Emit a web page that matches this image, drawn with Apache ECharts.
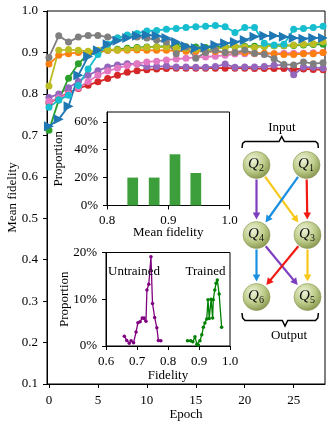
<!DOCTYPE html>
<html>
<head>
<meta charset="utf-8">
<script src="https://cdn.jsdelivr.net/npm/echarts@6/dist/echarts.min.js"></script>
<style>
  html, body { margin: 0; padding: 0; background: #fff; }
  #chart { width: 327px; height: 425px; }
</style>
</head>
<body>
<div id="chart"></div>
<script>
  // main plot: mean fidelity per epoch, one array per run
  var epochs = [0, 1, 2, 3, 4, 5, 6, 7, 8, 9, 10, 11, 12, 13, 14, 15, 16, 17, 18, 19, 20, 21, 22, 23, 24, 25, 26, 27, 28]
  var runRed = [0.778, 0.79, 0.803, 0.813, 0.821, 0.829, 0.837, 0.845, 0.852, 0.856, 0.858, 0.86, 0.861, 0.862, 0.862, 0.862, 0.862, 0.862, 0.862, 0.862, 0.862, 0.861, 0.861, 0.861, 0.861, 0.86, 0.86, 0.859, 0.858]
  var runPurple = [0.791, 0.8, 0.815, 0.83, 0.845, 0.856, 0.865, 0.87, 0.873, 0.872, 0.866, 0.866, 0.867, 0.865, 0.865, 0.864, 0.864, 0.866, 0.872, 0.864, 0.865, 0.865, 0.866, 0.869, 0.87, 0.846, 0.865, 0.864, 0.862]
  var runPink = [0.782, 0.79, 0.8, 0.815, 0.83, 0.845, 0.855, 0.862, 0.868, 0.873, 0.877, 0.879, 0.882, 0.884, 0.886, 0.888, 0.889, 0.891, 0.893, 0.896, 0.897, 0.897, 0.897, 0.897, 0.898, 0.898, 0.898, 0.899, 0.9]
  var runGreen = [0.712, 0.785, 0.838, 0.873, 0.895, 0.9, 0.905, 0.908, 0.91, 0.912, 0.913, 0.914, 0.915, 0.915, 0.914, 0.913, 0.912, 0.913, 0.914, 0.914, 0.915, 0.915, 0.915, 0.916, 0.916, 0.917, 0.918, 0.919, 0.92]
  var runOrange = [0.872, 0.893, 0.897, 0.9, 0.9, 0.902, 0.905, 0.905, 0.905, 0.906, 0.905, 0.905, 0.905, 0.904, 0.903, 0.903, 0.902, 0.902, 0.9, 0.9, 0.9, 0.898, 0.898, 0.897, 0.895, 0.895, 0.897, 0.897, 0.9]
  var runOlive = [0.819, 0.905, 0.907, 0.905, 0.903, 0.905, 0.907, 0.906, 0.908, 0.91, 0.912, 0.913, 0.913, 0.911, 0.91, 0.908, 0.905, 0.908, 0.912, 0.915, 0.913, 0.912, 0.915, 0.916, 0.917, 0.918, 0.92, 0.921, 0.926]
  var runGray = [0.888, 0.94, 0.925, 0.937, 0.941, 0.941, 0.937, 0.935, 0.94, 0.937, 0.935, 0.93, 0.925, 0.897, 0.913, 0.886, 0.9, 0.905, 0.9, 0.9, 0.905, 0.898, 0.895, 0.885, 0.871, 0.87, 0.877, 0.873, 0.875]
  var runCyan = [0.768, 0.785, 0.797, 0.82, 0.86, 0.895, 0.92, 0.935, 0.942, 0.946, 0.952, 0.953, 0.956, 0.958, 0.96, 0.962, 0.963, 0.965, 0.962, 0.948, 0.96, 0.96, 0.922, 0.918, 0.92, 0.956, 0.958, 0.96, 0.963]
  var runBlue = [0.722, 0.739, 0.77, 0.845, 0.89, 0.905, 0.92, 0.928, 0.935, 0.94, 0.942, 0.94, 0.935, 0.925, 0.915, 0.91, 0.912, 0.918, 0.922, 0.925, 0.93, 0.938, 0.94, 0.94, 0.938, 0.935, 0.933, 0.935, 0.935]
  var epochTicks = [0, 5, 10, 15, 20, 25]

  // inset 1: histogram of mean fidelity
  var binCenters = [0.842, 0.877, 0.911, 0.945]
  var binProps = [0.2, 0.2, 0.367, 0.233]
  var propTicks = [0, 0.2, 0.4, 0.6]

  // inset 2: fidelity distributions
  var untrainedFid = [0.659, 0.667, 0.675, 0.681, 0.689, 0.697, 0.703, 0.71, 0.717, 0.723, 0.729, 0.732, 0.738, 0.745, 0.75, 0.757, 0.764, 0.769, 0.777]
  var untrainedProp = [0.021, 0.012, 0.006, 0.011, 0.007, 0.03, 0.05, 0.052, 0.06, 0.06, 0.053, 0.12, 0.132, 0.191, 0.091, 0.061, 0.039, 0.012, 0.011]
  var trainedFid = [0.863, 0.873, 0.88, 0.887, 0.893, 0.898, 0.903, 0.909, 0.914, 0.919, 0.925, 0.929, 0.933, 0.939, 0.944, 0.946, 0.951, 0.955, 0.959, 0.965, 0.973]
  var trainedProp = [0.011, 0.011, 0.009, 0.02, 0.004, 0.002, 0.011, 0.024, 0.04, 0.049, 0.058, 0.099, 0.059, 0.1, 0.06, 0.099, 0.12, 0.134, 0.141, 0.111, 0.04]

  var font = 'Liberation Serif'

  function pairs(xs, ys) {
    return xs.map(function (x, i) { return [x, ys[i]] })
  }

  function runSeries(data, color, symbol) {
    return {
      type: 'line',
      xAxisIndex: 0,
      yAxisIndex: 0,
      data: pairs(epochs, data),
      symbol: symbol || 'circle',
      symbolSize: symbol ? 10 : 7,
      symbolRotate: symbol ? -90 : 0,
      lineStyle: {width: 1.8, color: color},
      itemStyle: {color: color},
      emphasis: {disabled: true}
    }
  }

  function axisBase(extra) {
    var a = {
      type: 'value',
      axisLine: {show: true, onZero: false, lineStyle: {color: '#000', width: 1}},
      axisTick: {show: true, inside: false, length: 4, lineStyle: {color: '#000'}},
      axisLabel: {color: '#000', fontFamily: font, fontSize: 13, margin: 9},
      splitLine: {show: false},
      nameTextStyle: {color: '#000', fontFamily: font, fontSize: 13},
      nameLocation: 'middle',
      nameMoveOverlap: false
    }
    for (var k in extra) a[k] = extra[k]
    return a
  }

  // ---- qubit diagram ----
  var nodes = {
    Q1: [306.5, 165], Q2: [256.5, 165],
    Q4: [256.5, 235], Q3: [307.5, 235],
    Q6: [256.5, 297], Q5: [307.5, 297]
  }
  var R = 13.5
  var links = [
    ['Q2', 'Q4', '#7d3fbf'], ['Q2', 'Q3', '#f7c81a'], ['Q1', 'Q4', '#1b8fe0'], ['Q1', 'Q3', '#f01a12'],
    ['Q4', 'Q6', '#1b8fe0'], ['Q3', 'Q5', '#f7c81a'], ['Q4', 'Q5', '#7d3fbf'], ['Q3', 'Q6', '#f01a12']
  ]

  function arrow(a, b, color) {
    var dx = b[0] - a[0], dy = b[1] - a[1]
    var L = Math.sqrt(dx * dx + dy * dy)
    var ux = dx / L, uy = dy / L
    var sx = a[0] + ux * (R + 1), sy = a[1] + uy * (R + 1)
    var ex = b[0] - ux * (R + 2), ey = b[1] - uy * (R + 2)
    var bx = ex - ux * 7, by = ey - uy * 7
    return [
      {type: 'line', shape: {x1: sx, y1: sy, x2: bx + ux, y2: by + uy}, style: {stroke: color, lineWidth: 2.2}, z: 10},
      {type: 'polygon', shape: {points: [[ex, ey], [bx - uy * 3.8, by + ux * 3.8], [bx + uy * 3.8, by - ux * 3.8]]}, style: {fill: color}, z: 10}
    ]
  }

  var graphics = []
  links.forEach(function (l) {
    graphics = graphics.concat(arrow(nodes[l[0]], nodes[l[1]], l[2]))
  })
  Object.keys(nodes).forEach(function (k) {
    var c = nodes[k]
    graphics.push({
      type: 'circle', shape: {cx: c[0], cy: c[1], r: R}, z: 11,
      style: {
        fill: new echarts.graphic.RadialGradient(0.38, 0.32, 0.75, [
          {offset: 0, color: '#eef3d8'},
          {offset: 0.55, color: '#bccb88'},
          {offset: 1, color: '#7f8d46'}
        ]),
        stroke: '#8a9752', lineWidth: 0.6
      }
    })
    graphics.push({type: 'text', x: c[0] - 3, y: c[1] - 1, z: 12,
      style: {text: 'Q', font: 'italic 15px ' + font, fill: '#111', align: 'center', verticalAlign: 'middle'}})
    graphics.push({type: 'text', x: c[0] + 5, y: c[1] + 3, z: 12,
      style: {text: k.slice(1), font: '10px ' + font, fill: '#111', align: 'center', verticalAlign: 'middle'}})
  })
  // braces
  graphics.push({type: 'polyline', z: 10, shape: {points: [[242, 148], [242.6, 143.5], [245, 141.5], [279, 141.5], [281.7, 136.5], [284.4, 141.5], [315.5, 141.5], [317.8, 143.5], [318.4, 148]]},
    style: {stroke: '#000', lineWidth: 1.5, fill: null}})
  graphics.push({type: 'polyline', z: 10, shape: {points: [[242, 313], [242.6, 318], [245, 320.5], [282.3, 320.5], [285, 326], [287.7, 320.5], [315.5, 320.5], [317.8, 318], [318.4, 313]]},
    style: {stroke: '#000', lineWidth: 1.5, fill: null}})
  graphics.push({type: 'text', x: 282, y: 128, z: 12, style: {text: 'Input', font: '13px ' + font, fill: '#000', align: 'center', verticalAlign: 'middle'}})
  graphics.push({type: 'text', x: 289, y: 336, z: 12, style: {text: 'Output', font: '13px ' + font, fill: '#000', align: 'center', verticalAlign: 'middle'}})
  // inset annotations
  graphics.push({type: 'text', x: 134, y: 272, z: 12, style: {text: 'Untrained', font: '13px ' + font, fill: '#000', align: 'center', verticalAlign: 'middle'}})
  graphics.push({type: 'text', x: 205.5, y: 272, z: 12, style: {text: 'Trained', font: '13px ' + font, fill: '#000', align: 'center', verticalAlign: 'middle'}})

  var chart = echarts.init(document.getElementById('chart'))
  chart.setOption({
    animation: false,
    backgroundColor: '#fff',
    grid: [
      {left: 47, top: 11, right: 2, bottom: 41, show: true, borderColor: '#000', borderWidth: 1, backgroundColor: 'transparent', outerBoundsMode: 'none', containLabel: false},
      {left: 107, top: 112, width: 122.5, height: 93.5, show: true, borderColor: '#000', borderWidth: 1, backgroundColor: '#fff', outerBoundsMode: 'none', containLabel: false},
      {left: 106, top: 252.5, width: 124, height: 93.5, show: true, borderColor: '#000', borderWidth: 1, backgroundColor: '#fff', outerBoundsMode: 'none', containLabel: false}
    ],
    xAxis: [
      axisBase({gridIndex: 0, min: -0.2, max: 28.2, name: 'Epoch', nameGap: 24,
        axisTick: {show: true, length: 4, customValues: epochTicks, lineStyle: {color: '#000'}},
        axisLabel: {color: '#000', fontFamily: font, fontSize: 13, margin: 10, customValues: epochTicks}}),
      axisBase({gridIndex: 1, min: 0.8, max: 1.0, interval: 0.1, name: 'Mean fidelity', nameGap: 21,
        axisLabel: {color: '#000', fontFamily: font, fontSize: 13, margin: 9, formatter: function (v) { return v.toFixed(1) }}}),
      axisBase({gridIndex: 2, min: 0.6, max: 1.0, interval: 0.1, name: 'Fidelity', nameGap: 23,
        axisLabel: {color: '#000', fontFamily: font, fontSize: 13, margin: 9, formatter: function (v) { return v.toFixed(1) }}})
    ],
    yAxis: [
      axisBase({gridIndex: 0, min: 0.1, max: 1.0, interval: 0.1, name: 'Mean fidelity', nameGap: 28,
        axisLabel: {color: '#000', fontFamily: font, fontSize: 13, margin: 9, formatter: function (v) { return v.toFixed(1) }}}),
      axisBase({gridIndex: 1, min: 0, max: 0.67, name: 'Proportion', nameGap: 42,
        axisTick: {show: true, length: 4, customValues: propTicks, lineStyle: {color: '#000'}},
        axisLabel: {color: '#000', fontFamily: font, fontSize: 13, margin: 9, customValues: propTicks,
          formatter: function (v) { return Math.round(v * 100) + '%' }}}),
      axisBase({gridIndex: 2, min: 0, max: 0.2, interval: 0.1, name: 'Proportion', nameGap: 35,
        axisLabel: {color: '#000', fontFamily: font, fontSize: 13, margin: 9,
          formatter: function (v) { return Math.round(v * 100) + '%' }}})
    ],
    series: [
      runSeries(runRed, '#d62728'),
      runSeries(runPurple, '#9467bd'),
      runSeries(runPink, '#e377c2'),
      runSeries(runGreen, '#2ca02c'),
      runSeries(runOrange, '#ff7f0e'),
      runSeries(runOlive, '#bcbd22'),
      runSeries(runGray, '#7f7f7f'),
      runSeries(runCyan, '#17becf'),
      runSeries(runBlue, '#1f77b4', 'triangle'),
      {
        type: 'bar', xAxisIndex: 1, yAxisIndex: 1,
        data: pairs(binCenters, binProps),
        barWidth: 10.7,
        itemStyle: {color: '#3c9f3c'},
        emphasis: {disabled: true}
      },
      {
        type: 'line', xAxisIndex: 2, yAxisIndex: 2,
        data: pairs(untrainedFid, untrainedProp),
        symbol: 'circle', symbolSize: 3.5,
        lineStyle: {width: 1.3, color: '#800080'}, itemStyle: {color: '#800080'},
        emphasis: {disabled: true}
      },
      {
        type: 'line', xAxisIndex: 2, yAxisIndex: 2,
        data: pairs(trainedFid, trainedProp),
        symbol: 'circle', symbolSize: 3.5,
        lineStyle: {width: 1.3, color: '#008000'}, itemStyle: {color: '#008000'},
        emphasis: {disabled: true}
      }
    ],
    graphic: graphics
  })
</script>
</body>
</html>
